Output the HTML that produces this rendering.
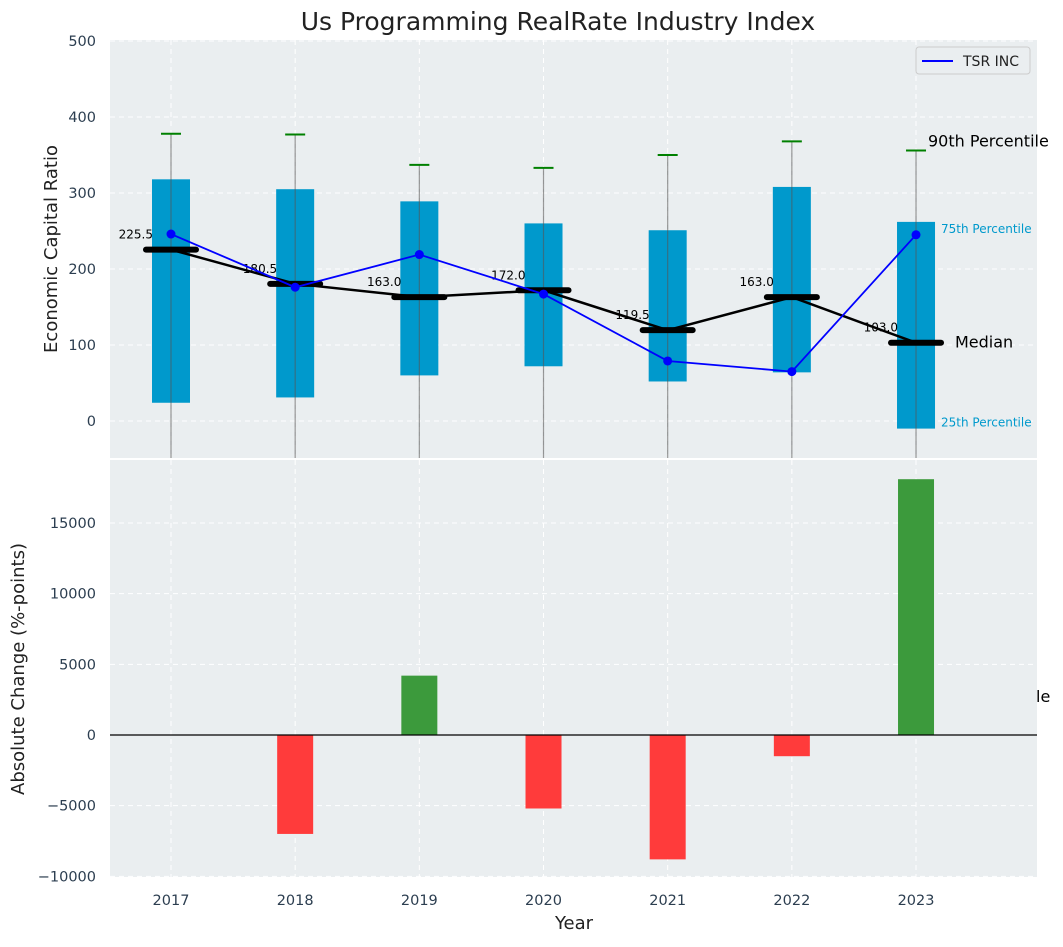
<!DOCTYPE html>
<html><head><meta charset="utf-8"><style>
body{margin:0;background:#fff;font-family:"Liberation Sans","DejaVu Sans",sans-serif}
svg text{font-family:"DejaVu Sans","Liberation Sans",sans-serif}
</style></head><body>
<svg id="chart" width="1063" height="942" xmlns="http://www.w3.org/2000/svg">
<text x="558" y="30" font-size="25" text-anchor="middle" fill="#222">Us Programming RealRate Industry Index</text>
<rect x="110" y="40" width="927" height="418" fill="#eaeef0"/>
<rect x="110" y="460" width="927" height="417" fill="#eaeef0"/>
<g id="topPanel"></g>
<g id="botPanel"></g>
<text transform="translate(57,249) rotate(-90)" font-size="18" text-anchor="middle" fill="#222">Economic Capital Ratio</text>
<text transform="translate(24,669) rotate(-90)" font-size="18" text-anchor="middle" fill="#222">Absolute Change (%-points)</text>
<text x="574" y="929" font-size="18" text-anchor="middle" fill="#222">Year</text>
<g>
<rect x="916" y="47" width="114" height="27" fill="#eaeef0" stroke="#ccc" rx="3"/>
<line x1="922" y1="61" x2="953" y2="61" stroke="#0000ff" stroke-width="2"/>
<text x="963" y="66" font-size="14" fill="#222">TSR INC</text>
</g>
</svg>
<script>
const years=["2017","2018","2019","2020","2021","2022","2023"];
const q25=[24,31,60,72,52,64,-10];
const q75=[318,305,289,260,251,308,262];
const p90=[378,377,337,333,350,368,356];
const p10=[-120,-120,-120,-120,-120,-120,-120];
const medians=[225.5,180.5,163.0,172.0,119.5,163.0,103.0];
const tsr=[246,176,219,167,79,65,245];
const changes=[0,-7000,4200,-5200,-8800,-1500,18100];
const topTicks=[0,100,200,300,400,500];
const botTicks=[-10000,-5000,0,5000,10000,15000];
const NS="http://www.w3.org/2000/svg";
const X=i=>171+i*124.17;
const Y1=v=>421-0.76*v;
const Y2=v=>735-0.014133*v;
function mk(p,t,a){const e=document.createElementNS(NS,t);for(const k in a)e.setAttribute(k,a[k]);p.appendChild(e);return e;}
const topG=document.getElementById('topPanel'),botG=document.getElementById('botPanel'),svgEl=document.getElementById('chart');
years.forEach((y,i)=>{
 let g=mk(topG,'line',{x1:X(i),x2:X(i),y1:40,y2:458,stroke:'#fff','stroke-dasharray':'5,4'});
 
 g=mk(botG,'line',{x1:X(i),x2:X(i),y1:460,y2:877,stroke:'#fff','stroke-dasharray':'5,4'});
 
 const t=mk(svgEl,'text',{x:X(i),y:905,'font-size':14.5,'text-anchor':'middle',fill:'#2c3e50'});t.textContent=y;
 
});
topTicks.forEach(v=>{
 let g=mk(topG,'line',{x1:110,x2:1037,y1:Y1(v),y2:Y1(v),stroke:'#fff','stroke-dasharray':'5,4'});
 
 const t=mk(svgEl,'text',{x:96,y:Y1(v)+5,'font-size':14.5,'text-anchor':'end',fill:'#2c3e50'});t.textContent=v;
 
});
botTicks.forEach(v=>{
 let g=mk(botG,'line',{x1:110,x2:1037,y1:Y2(v),y2:Y2(v),stroke:'#fff','stroke-dasharray':'5,4'});
 
 const t=mk(svgEl,'text',{x:96,y:Y2(v)+5,'font-size':14.5,'text-anchor':'end',fill:'#2c3e50'});t.textContent=v<0?'\u2212'+(-v):v;
 
});
years.forEach((y,i)=>{
 let r=mk(topG,'rect',{x:X(i)-19,y:Y1(q75[i]),width:38,height:Y1(q25[i])-Y1(q75[i]),fill:'#0099cc'});
 
 let w=mk(topG,'line',{x1:X(i),x2:X(i),y1:Y1(p90[i]),y2:Math.min(458,Y1(p10[i])),stroke:'#555','stroke-opacity':0.6,'stroke-width':1.2});
 
 let c=mk(topG,'line',{x1:X(i)-10,x2:X(i)+10,y1:Y1(p90[i]),y2:Y1(p90[i]),stroke:'#008000','stroke-width':2});
 
});
let mp=mk(topG,'polyline',{points:medians.map((m,i)=>X(i)+','+Y1(m)).join(' '),fill:'none',stroke:'#000','stroke-width':2.5});

medians.forEach((m,i)=>{
 let b=mk(topG,'line',{x1:X(i)-25,x2:X(i)+25,y1:Y1(m),y2:Y1(m),stroke:'#000','stroke-width':6,'stroke-linecap':'round'});
 
 let t=mk(topG,'text',{x:X(i)-18,y:Y1(m)-11,'font-size':12,'text-anchor':'end',fill:'#000'});t.textContent=m.toFixed(1);
 
});
let tl=mk(topG,'polyline',{points:tsr.map((m,i)=>X(i)+','+Y1(m)).join(' '),fill:'none',stroke:'#0000ff','stroke-width':1.8});

tsr.forEach((m,i)=>{let c=mk(topG,'circle',{cx:X(i),cy:Y1(m),r:4.5,fill:'#0000ff'});
 });
const L=years.length-1;
[[p90[L],'90th Percentile',928,16,'#000',-9],[q75[L],'75th Percentile',941,12,'#0099cc',6],[medians[L],'Median',955,16,'#000',0],[q25[L],'25th Percentile',941,12,'#0099cc',-7]].forEach(a=>{
 let t=mk(svgEl,'text',{x:a[2],y:Y1(a[0])+5+a[5],'font-size':a[3],fill:a[4]});t.textContent=a[1];
 
});
let le=mk(svgEl,'text',{x:1036,y:702,'font-size':16,fill:'#000'});le.textContent='le';

changes.forEach((v,i)=>{ if(!v)return;
 let r=mk(botG,'rect',{x:X(i)-18,y:Math.min(Y2(v),Y2(0)),width:36,height:Math.abs(Y2(v)-Y2(0)),fill:v>0?'#3c9a3c':'#ff3b3b'});
 
});
let z=mk(botG,'line',{x1:110,x2:1037,y1:Y2(0),y2:Y2(0),stroke:'#000','stroke-width':1.2});

</script>
</body></html>
